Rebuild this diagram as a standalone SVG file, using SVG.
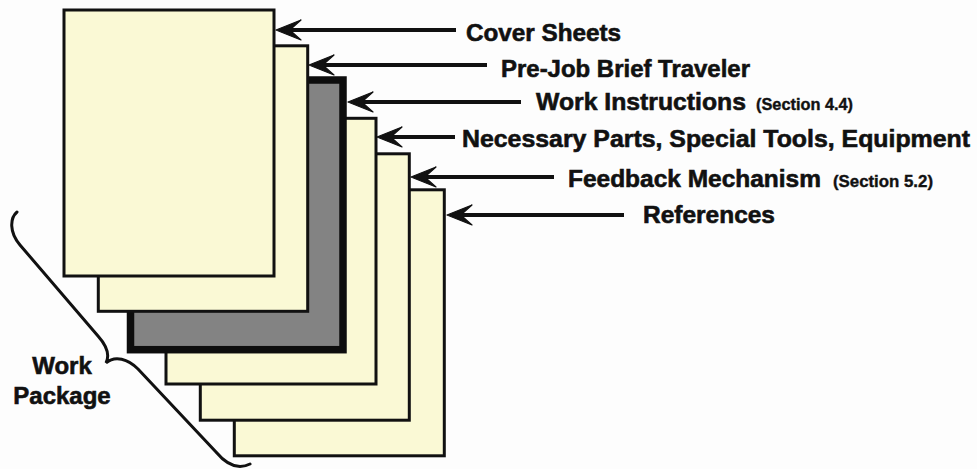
<svg xmlns="http://www.w3.org/2000/svg" width="977" height="469" viewBox="0 0 977 469">
  <style>
    .page { fill: #faf9d5; stroke: #111; stroke-width: 3; }
    .page-dark { fill: #838383; stroke: #0d0d0d; stroke-width: 7.5; }
    .lead { stroke: #111; stroke-width: 4.2; fill: none; marker-end: url(#head); }
    .label { font-family: "Liberation Sans", Arial, Helvetica, sans-serif; font-weight: bold; font-size: 24px; fill: #111; stroke: #111; stroke-width: 0.6; }
    .note { font-family: "Liberation Sans", Arial, Helvetica, sans-serif; font-weight: bold; font-size: 17px; fill: #111; stroke: #111; stroke-width: 0.4; }
    .brace { stroke: #111; stroke-width: 3; fill: none; stroke-linecap: round; }
  </style>
  <defs>
    <!-- barbed arrowhead; tip sits 15px ahead of the line end -->
    <marker id="head" markerUnits="userSpaceOnUse" markerWidth="40" markerHeight="30" refX="0" refY="0" orient="auto" overflow="visible">
      <path d="M15,0 L-10,-10 L-1,-2 L-1,2 L-10,10 Z" fill="#111" stroke="#111" stroke-width="1.2" stroke-linejoin="round"/>
    </marker>
  </defs>
  <rect width="977" height="469" fill="#fdfdfd"/>

  <!-- stacked sheets, back to front -->
  <g id="references">
    <rect class="page" x="234.3" y="189.8" width="210" height="266"/>
  </g>
  <g id="feedback-mechanism">
    <rect class="page" x="200.3" y="153.8" width="209" height="266.4"/>
  </g>
  <g id="parts-tools-equipment">
    <rect class="page" x="166" y="118.3" width="210" height="265.7"/>
  </g>
  <g id="work-instructions">
    <rect class="page-dark" x="130.5" y="80" width="212.5" height="269.7"/>
  </g>
  <g id="pre-job-brief">
    <rect class="page" x="98.3" y="45.8" width="209.4" height="265.5"/>
  </g>
  <g id="cover-sheets">
    <rect class="page" x="64" y="10" width="210" height="266"/>
  </g>

  <!-- leader arrows -->
  <g id="connectors">
    <line class="lead" x1="456" y1="30" x2="291" y2="30"/>
    <line class="lead" x1="487" y1="65" x2="324" y2="65"/>
    <line class="lead" x1="521" y1="102" x2="363" y2="102"/>
    <line class="lead" x1="455" y1="137" x2="392" y2="137"/>
    <line class="lead" x1="554" y1="177" x2="426" y2="177"/>
    <line class="lead" x1="624" y1="215" x2="462" y2="215"/>
  </g>

  <!-- labels -->
  <g id="labels">
    <text class="label" x="466" y="41" textLength="155" lengthAdjust="spacingAndGlyphs">Cover Sheets</text>
    <text class="label" x="501" y="77" textLength="249" lengthAdjust="spacingAndGlyphs">Pre-Job Brief Traveler</text>
    <text class="label" x="536" y="110" textLength="210" lengthAdjust="spacingAndGlyphs">Work Instructions</text>
    <text class="note" x="756" y="110" textLength="97" lengthAdjust="spacingAndGlyphs">(Section 4.4)</text>
    <text class="label" x="462" y="147" textLength="508" lengthAdjust="spacingAndGlyphs">Necessary Parts, Special Tools, Equipment</text>
    <text class="label" x="568" y="187" textLength="253" lengthAdjust="spacingAndGlyphs">Feedback Mechanism</text>
    <text class="note" x="833" y="187" textLength="100" lengthAdjust="spacingAndGlyphs">(Section 5.2)</text>
    <text class="label" x="643" y="223" textLength="132" lengthAdjust="spacingAndGlyphs">References</text>
  </g>

  <!-- package brace -->
  <g id="work-package">
    <path class="brace" d="M17,212 C10,218 9,232 20,245 L98,336 C106,345 110,355 106,363 C115,355 128,359 138,369 L216,452 C226,464 238,470 250,464"/>
    <text class="label" x="62" y="374" text-anchor="middle">Work</text>
    <text class="label" x="62" y="404" text-anchor="middle">Package</text>
  </g>
</svg>
